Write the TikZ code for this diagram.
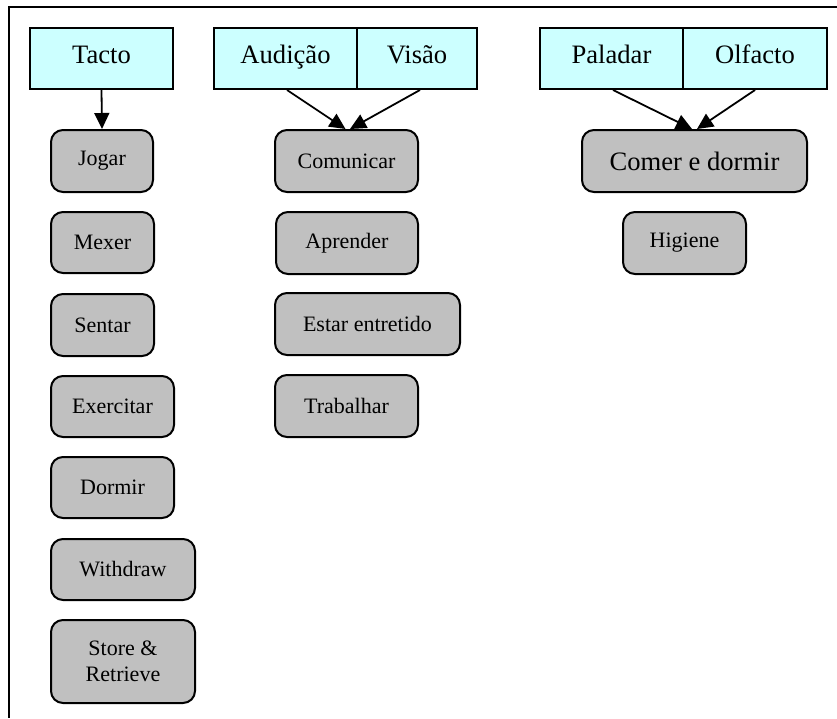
\documentclass[tikz,border=0pt]{standalone}
\usepackage{fontspec}
\setmainfont{Liberation Serif}
\usetikzlibrary{arrows.meta}
\definecolor{senseblue}{HTML}{CCFFFF}
\definecolor{actgray}{HTML}{C0C0C0}
\tikzset{
  sense/.style={draw=black, line width=2pt, fill=senseblue, inner sep=0pt,
    minimum height=61pt, text height=16pt, text depth=6pt,
    font=\fontsize{26.6}{30}\selectfont},
  act/.style={draw=black, line width=2pt, fill=actgray, rounded corners=12pt,
    inner sep=0pt, font=\fontsize{22}{26}\selectfont, align=center},
  link/.style={line width=1.8pt, -{Triangle[length=16pt,width=15pt]}},
}
\newcommand{\actbox}[6]{% name, x0, y0, x1, y1, text
  \node[act, minimum width={#4-#2}, minimum height={#5-#3}] (#1) at ({(#2+#4)/2},{(#3+#5)/2}) {#6};}
\begin{document}
\begin{tikzpicture}[x=1pt, y=-1pt]
\useasboundingbox (0,0) rectangle (837,718);
% frame
\draw[line width=2pt] (837,7) -- (9,7) -- (9,718);

% senses
\node[sense, minimum width=143pt] (tacto) at (101.5,58.5) {Tacto};
\node[sense, minimum width=143pt] (aud) at (285.5,58.5) {Audição};
\node[sense, minimum width=120pt] (vis) at (417,58.5) {Visão};
\node[sense, minimum width=143pt] (pal) at (611.5,58.5) {Paladar};
\node[sense, minimum width=144pt] (olf) at (755,58.5) {Olfacto};

% activities: touch
\actbox{jogar}{51}{130}{153}{192}{Jogar}
\actbox{mexer}{51}{212}{154}{273}{Mexer}
\actbox{sentar}{51}{294}{154}{356}{Sentar}
\actbox{exerc}{51}{376}{174}{437}{Exercitar}
\actbox{dormir}{51}{457}{174}{518}{Dormir}
\actbox{withdraw}{51}{539}{195}{600}{Withdraw}
\actbox{store}{51}{620}{195}{703}{Store \&\\Retrieve}

% activities: hearing and sight
\actbox{comun}{275}{130}{418}{192}{Comunicar}
\actbox{aprender}{276}{212}{418}{274}{Aprender}
\actbox{estar}{275}{293}{460}{355}{Estar entretido}
\actbox{trab}{275}{375}{418}{437}{Trabalhar}

% activities: taste and smell
\node[act, font=\fontsize{26.6}{30}\selectfont, minimum width=225pt, minimum height=62pt]
  (comer) at (694.5,161) {Comer e dormir};
\actbox{higiene}{623}{212}{746}{274}{Higiene}

% connectors
\draw[link] (tacto.south) -- (jogar.north);
\draw[link] ([xshift=1.5pt]aud.south) -- ([xshift=-1pt]comun.north);
\draw[link] ([xshift=3pt]vis.south) -- ([xshift=3.5pt]comun.north);
\draw[link] ([xshift=1.5pt]pal.south) -- ([xshift=-2.5pt]comer.north);
\draw[link] (olf.south) -- ([xshift=2.5pt]comer.north);
\end{tikzpicture}
\end{document}
